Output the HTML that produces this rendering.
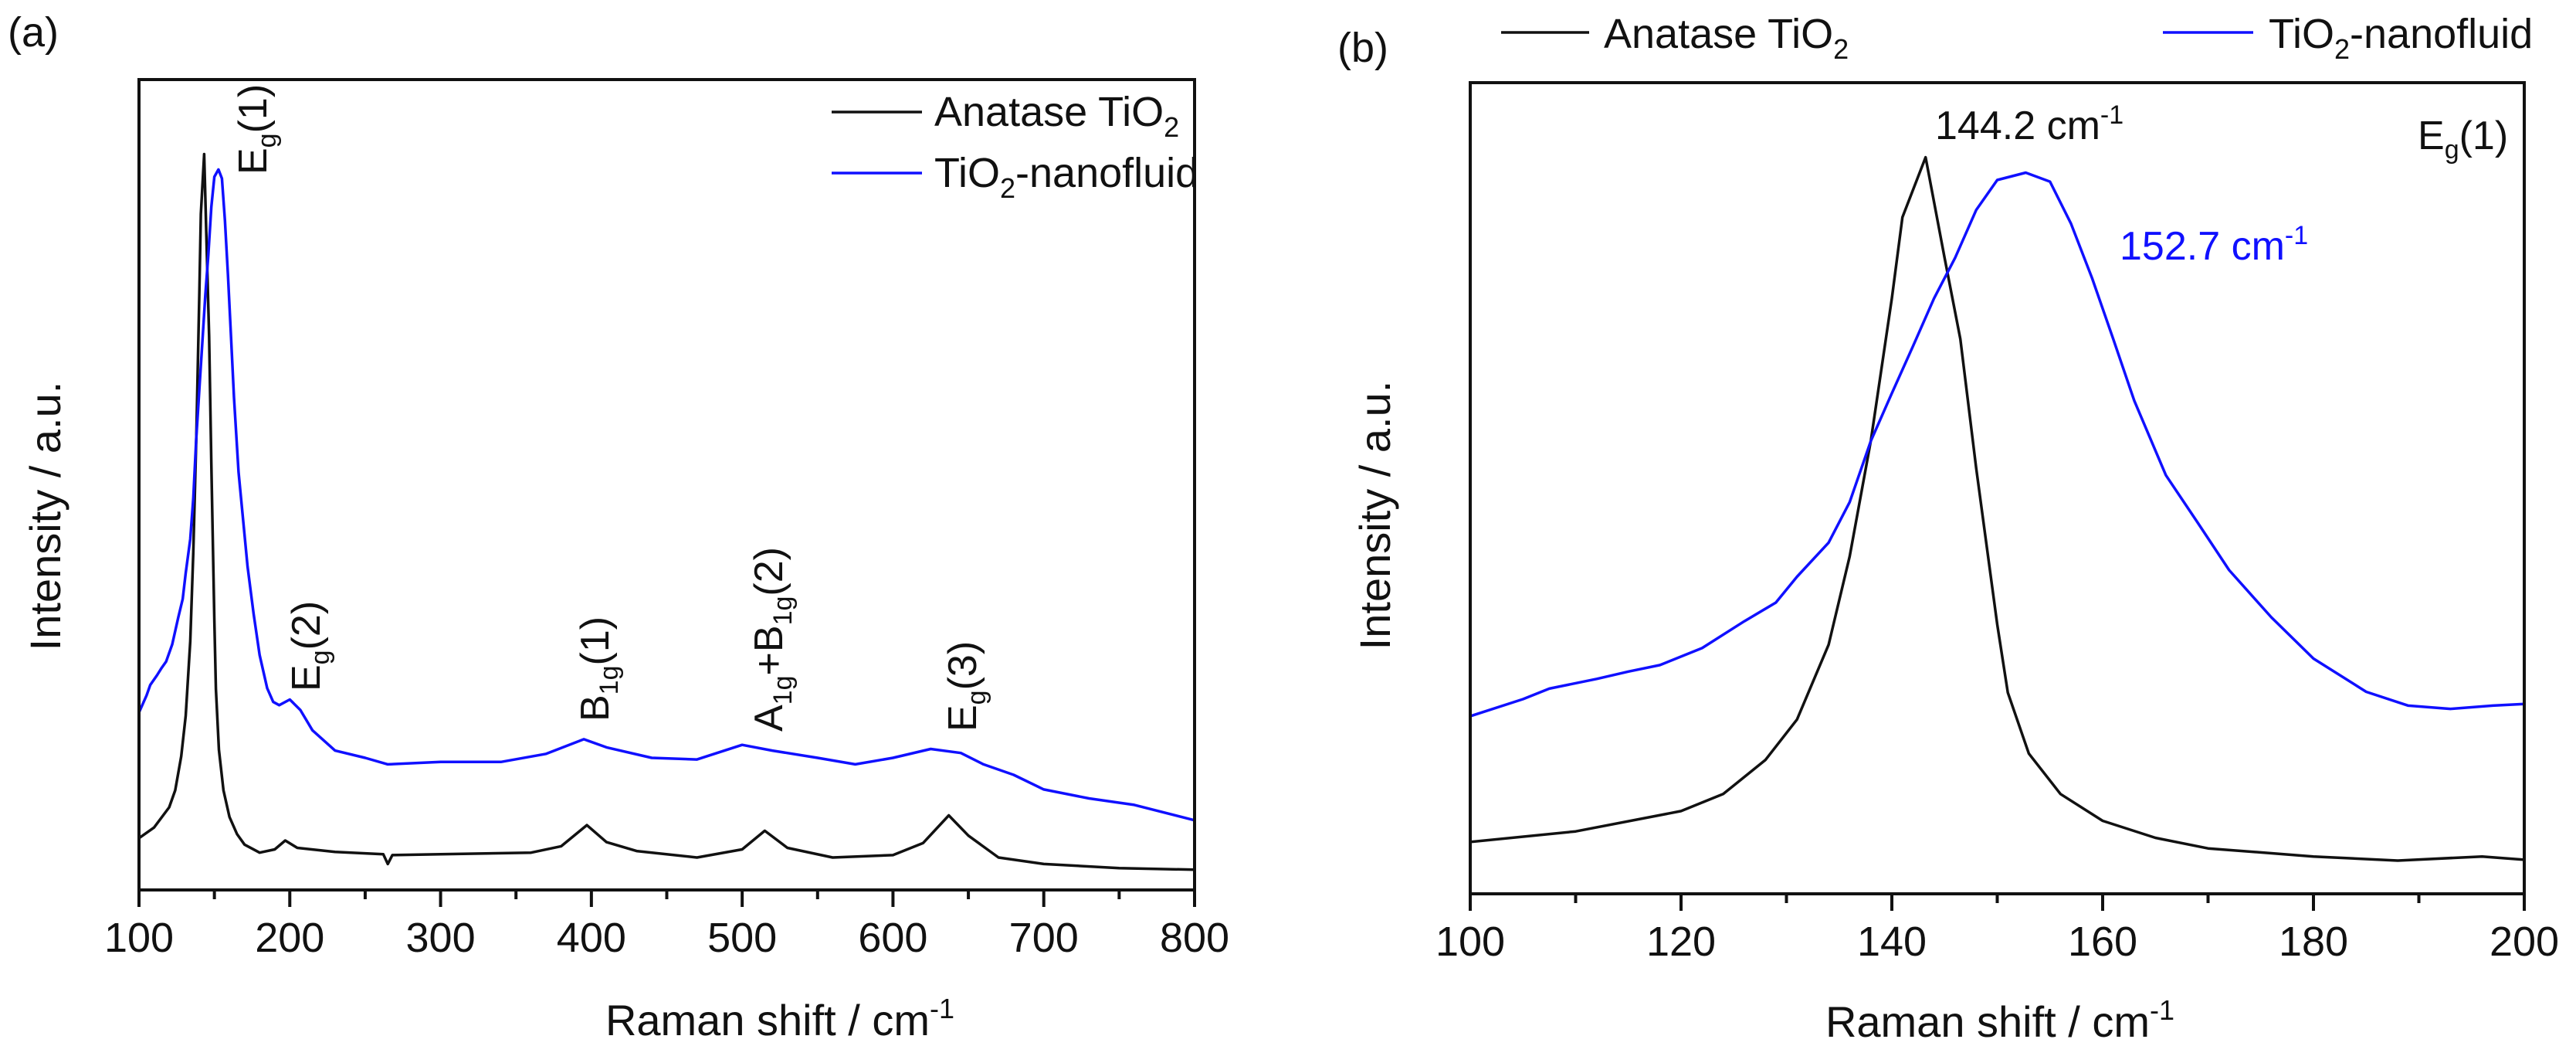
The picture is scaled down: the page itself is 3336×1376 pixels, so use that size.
<!DOCTYPE html>
<html><head><meta charset="utf-8"><style>
html,body{margin:0;padding:0;background:#fff}
svg{display:block}
text{font-family:"Liberation Sans",Arial,sans-serif;}
</style></head><body>
<svg id="chart" width="3336" height="1376" viewBox="0 0 3336 1376" xmlns="http://www.w3.org/2000/svg">
<g id="pa"></g>
<g id="pb"></g>
</svg>
<script>
// Panel (a) data
const aBlackX = [100,110,120,124,128,131,134,136,138,140,141,143.2,145,146.5,148,150,151,153,156,160,165,170,180,190,197,205,230,262,265,268,300,360,380,397,410,430,470,500,515,530,560,600,620,637,650,670,700,750,800];
const aBlackY = [6.4,7.7,10.2,12.3,16.5,21.5,30.7,41.6,55.8,73.4,83.4,90.8,78.4,68.4,52.5,33.2,24.8,17.3,12.3,9,6.9,5.6,4.6,5.0,6.1,5.2,4.7,4.4,3.2,4.3,4.4,4.6,5.4,8.0,5.9,4.8,4.0,5.0,7.3,5.2,4.0,4.3,5.8,9.2,6.7,4.0,3.2,2.7,2.5];
const aBlueX = [100,105,107.5,112,115,118,122,126,129,131,134,136,138,140,142,144,146,148,150,152.7,155,157,159,161,163,166,169,172,176,180,185,189,193,200,207,215,230,250,265,300,340,370,395,410,440,470,500,520,550,575,600,625,645,660,680,700,730,760,800];
const aBlueY = [21.9,24,25.3,26.5,27.4,28.2,30.3,33.6,35.9,39.1,43.3,48.3,55.8,61.7,67.5,73.4,78.4,84.3,88,88.9,87.8,82.6,75.9,68.4,60.8,51.6,45.8,39.9,34.1,29,24.9,23.2,22.8,23.5,22.2,19.7,17.2,16.3,15.5,15.8,15.8,16.8,18.6,17.6,16.3,16.1,17.9,17.2,16.3,15.5,16.3,17.4,16.9,15.5,14.2,12.4,11.3,10.5,8.6];
const aTicks = [100,200,300,400,500,600,700,800];
// Panel (b) data
const bBlackX = [100,110,120,124,128,131,134,136,138,140,141,143.2,145,146.5,148,150,151,153,156,160,165,170,180,188,196,200];
const bBlackY = [6.4,7.7,10.2,12.3,16.5,21.5,30.7,41.6,55.8,73.4,83.4,90.8,78.4,68.4,52.5,33.2,24.8,17.3,12.3,9,6.9,5.6,4.6,4.1,4.6,4.2];
const bBlueX = [100,105,107.5,112,115,118,122,126,129,131,134,136,138,140,142,144,146,148,150,152.7,155,157,159,161,163,166,169,172,176,180,185,189,193,197,200];
const bBlueY = [21.9,24,25.3,26.5,27.4,28.2,30.3,33.6,35.9,39.1,43.3,48.3,55.8,61.7,67.5,73.4,78.4,84.3,88,88.9,87.8,82.6,75.9,68.4,60.8,51.6,45.8,39.9,34.1,29,24.9,23.2,22.8,23.2,23.4];
const bTicks = [100,120,140,160,180,200];

const NS="http://www.w3.org/2000/svg";
function mk(parent,tag,attrs){const e=document.createElementNS(NS,tag);for(const k in attrs)e.setAttribute(k,attrs[k]);parent.appendChild(e);return e;}

function panel(g,box,xmin,xmax,ticks,minorStep,series){
  const sx=v=>box.l+(v-xmin)/(xmax-xmin)*(box.r-box.l);
  const sy=v=>box.b-v/100*(box.b-box.t);
  series.forEach(s=>{
    const d=s.x.map((v,i)=>(i?'L':'M')+sx(v).toFixed(1)+','+sy(s.y[i]).toFixed(1)).join(' ');
    const p=mk(g,'path',{d:d,fill:'none',stroke:s.c,'stroke-width':3.5,'stroke-linejoin':'round'});
    
    
  });
  const fr=mk(g,'rect',{x:box.l,y:box.t,width:box.r-box.l,height:box.b-box.t,fill:'none',stroke:'#111','stroke-width':4});
  
  
  for(let v=xmin;v<=xmax+1e-9;v+=minorStep){
    const major=ticks.some(t=>Math.abs(t-v)<1e-6);
    const t=mk(g,'line',{x1:sx(v),x2:sx(v),y1:box.b,y2:box.b+(major?22:12),stroke:'#111','stroke-width':4});
    
    
  }
  ticks.forEach(v=>{
    const t=mk(g,'text',{x:sx(v),y:box.b+80,'font-size':54,'text-anchor':'middle',fill:'#111'});
    t.textContent=v;
    
    
  });
}
panel(document.getElementById('pa'),{l:180,r:1547,t:103,b:1152},100,800,aTicks,50,
 [{x:aBlackX,y:aBlackY,c:'#111',name:'anatase-tio2-line'},{x:aBlueX,y:aBlueY,c:'#1010ff',name:'tio2-nanofluid-line'}]);
panel(document.getElementById('pb'),{l:1904,r:3269,t:107,b:1157},100,200,bTicks,10,
 [{x:bBlackX,y:bBlackY,c:'#111',name:'anatase-tio2-line'},{x:bBlueX,y:bBlueY,c:'#1010ff',name:'tio2-nanofluid-line'}]);
</script>
<svg width="3336" height="1376" style="position:absolute;left:0;top:0" xmlns="http://www.w3.org/2000/svg">
<g font-family="Liberation Sans, Arial, sans-serif" fill="#111">
<text x="10" y="60" font-size="54">(a)</text>
<text x="1732" y="80" font-size="54">(b)</text>
<line x1="1077" y1="145" x2="1194" y2="145" stroke="#111" stroke-width="3.5"/>
<text x="1210" y="163" font-size="54">Anatase TiO<tspan font-size="36" dy="14">2</tspan></text>
<line x1="1077" y1="224" x2="1194" y2="224" stroke="#1010ff" stroke-width="3.5"/>
<text x="1210" y="242" font-size="54">TiO<tspan font-size="36" dy="14">2</tspan><tspan dy="-14">-nanofluid</tspan></text>
<text x="1010" y="1340" font-size="56" text-anchor="middle">Raman shift / cm<tspan font-size="36" dy="-22">-1</tspan></text>
<text transform="translate(78,668) rotate(-90)" font-size="56" text-anchor="middle">Intensity / a.u.</text>
<text transform="translate(345,226) rotate(-90)" font-size="52">E<tspan font-size="34" dy="12">g</tspan><tspan dy="-12">(1)</tspan></text>
<text transform="translate(414,895) rotate(-90)" font-size="52">E<tspan font-size="34" dy="12">g</tspan><tspan dy="-12">(2)</tspan></text>
<text transform="translate(788,934) rotate(-90)" font-size="52">B<tspan font-size="34" dy="12">1g</tspan><tspan dy="-12">(1)</tspan></text>
<text transform="translate(1013,947) rotate(-90)" font-size="52">A<tspan font-size="34" dy="12">1g</tspan><tspan dy="-12">+B</tspan><tspan font-size="34" dy="12">1g</tspan><tspan dy="-12">(2)</tspan></text>
<text transform="translate(1264,947) rotate(-90)" font-size="52">E<tspan font-size="34" dy="12">g</tspan><tspan dy="-12">(3)</tspan></text>
<line x1="1944" y1="42" x2="2058" y2="42" stroke="#111" stroke-width="3.5"/>
<text x="2077" y="62" font-size="54">Anatase TiO<tspan font-size="36" dy="14">2</tspan></text>
<line x1="2801" y1="42" x2="2918" y2="42" stroke="#1010ff" stroke-width="3.5"/>
<text x="2938" y="62" font-size="54">TiO<tspan font-size="36" dy="14">2</tspan><tspan dy="-14">-nanofluid</tspan></text>
<text x="2506" y="180" font-size="52">144.2 cm<tspan font-size="34" dy="-20">-1</tspan></text>
<text x="2745" y="336" font-size="52" fill="#1010ff">152.7 cm<tspan font-size="34" dy="-20">-1</tspan></text>
<text x="3131" y="193" font-size="52">E<tspan font-size="34" dy="12">g</tspan><tspan dy="-12">(1)</tspan></text>
<text x="2590" y="1342" font-size="56" text-anchor="middle">Raman shift / cm<tspan font-size="36" dy="-22">-1</tspan></text>
<text transform="translate(1800,667) rotate(-90)" font-size="56" text-anchor="middle">Intensity / a.u.</text>
</g>
</svg>
</body></html>
